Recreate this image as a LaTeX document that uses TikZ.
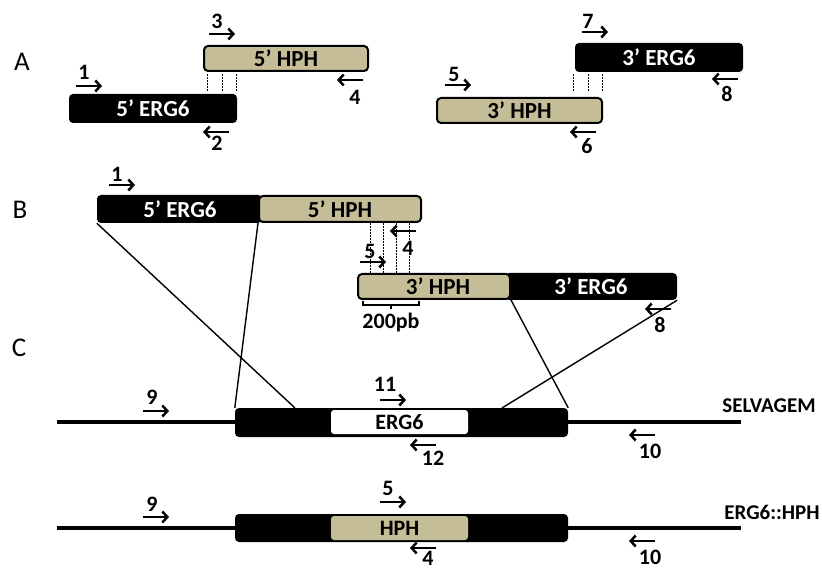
\documentclass[tikz,border=0pt]{standalone}
\usepackage{fontspec}
\setmainfont{Carlito}
\usetikzlibrary{arrows.meta}
\definecolor{tan}{RGB}{196,189,151}

\tikzset{
	blkbox/.style={fill=black, text=white, rounded corners=4pt, inner sep=0pt, font=\bfseries\fontsize{23}{26}\selectfont},
	tanbox/.style={fill=tan, draw=black, line width=2pt, rounded corners=4pt, inner sep=0pt, font=\bfseries\fontsize{23}{26}\selectfont},
	genebox/.style={rounded corners=3pt, inner sep=0pt, minimum width=137pt, minimum height=24pt, font=\bfseries\fontsize{22}{26}\selectfont},
	panel/.style={font=\fontsize{27}{30}\selectfont, inner sep=0pt},
	num/.style={font=\bfseries\fontsize{22}{24}\selectfont, inner sep=0pt},
	tag/.style={font=\bfseries\fontsize{21}{24}\selectfont, inner sep=0pt},
	primer/.style={line width=2.5pt, -{Straight Barb[length=5pt,width=11pt,line width=2.5pt]}},
	overlap/.style={line width=0.5pt, dash pattern=on 2pt off 1pt},
	link/.style={line width=1.4pt},
	dna/.style={line width=4pt}
}

\begin{document}
\begin{tikzpicture}[x=1pt, y=-1pt]
	\useasboundingbox (0,0) rectangle (822,569);

	% panel A
	\node[panel] (pa) at (22,62) {A};
	\node[tanbox, minimum width=164pt, minimum height=25pt] (a5hph) at (286,58.5) {5’ HPH};
	\node[blkbox, minimum width=168pt, minimum height=29pt] (a5erg) at (153,108.5) {5’ ERG6};
	\node[blkbox, minimum width=168pt, minimum height=29pt] (a3erg) at (659,57.5) {3’ ERG6};
	\node[tanbox, minimum width=165pt, minimum height=25pt] (a3hph) at (519.5,110.5) {3’ HPH};
	\foreach \x in {207,222,236} \draw[overlap] (\x,74) -- (\x,92);
	\foreach \x in {573,588,602} \draw[overlap] (\x,74) -- (\x,92);

	% panel B
	\node[panel] (pb) at (20,210) {B};
	\node[blkbox, minimum width=165pt, minimum height=28pt] (b5erg) at (179.5,209) {\hspace*{1pt}5’ ERG6};
	\node[tanbox, minimum width=162pt, minimum height=26pt] (b5hph) at (340,209) {5’ HPH};
	\node[blkbox, minimum width=172pt, minimum height=27pt] (b3erg) at (591,286.5) {3’ ERG6};
	\node[tanbox, minimum width=152pt, minimum height=25pt] (b3hph) at (434,286.5) {\hspace*{8pt}3’ HPH};
	\foreach \x in {370,383,396,409} \draw[overlap] (\x,223) -- (\x,273);
	\draw[line width=1.5pt] (363,301) -- (363,305) -- (419,305) -- (419,301);
	\draw[line width=1.5pt] (391,305) -- (391,309);
	\node[num] (bp) at (391,323) {200pb};

	% panel C
	\node[panel] (pc) at (19,348) {C};
	\coordinate (wtL) at (57,422);
	\coordinate (wtR) at (741,422);
	\coordinate (mutL) at (57,528);
	\coordinate (mutR) at (741,528);
	\draw[dna] (wtL) -- (wtR);
	\draw[dna] (mutL) -- (mutR);
	\node[blkbox, minimum width=333pt, minimum height=29pt] (wt) at (401.5,422.5) {};
	\node[genebox, fill=white] (wtgene) at (399.5,422) {ERG6};
	\node[blkbox, minimum width=333pt, minimum height=28pt] (mut) at (401.5,528) {};
	\node[genebox, fill=tan] (mutgene) at (399.5,528) {HPH};
	\node[tag] (wtname) at (769,406) {SELVAGEM};
	\node[tag] (mutname) at (772,512) {ERG6::HPH};

	% crossing lines
	\coordinate (wtA) at (295,408);
	\coordinate (wtB) at (502,408);
	\draw[link] (b5erg.south west) -- (wtA);
	\draw[link] (b5hph.south west) -- (wt.north west);
	\draw[link] (b3hph.south east) -- (wt.north east);
	\draw[link] (b3erg.south east) -- (wtB);

	% forward primers
	\foreach \nm/\x/\y/\lx/\ly/\lab in {f3/209/34/217/21/3, fa1/76/86/84/72/1, f7/582/32/588/21/7, fa5/445/85/454/74/5, fb1/109/185/117/174/1, fb5/360/262/370/251/5, fc9/143/411/152/397/9, f11/380/400/385/384/11, fd9/143/517/152/504/9, fd5/380/502/388/488/5}
		{\draw[primer] (\x,\y) -- ++(26,0); \node[num] (\nm) at (\lx,\ly) {\lab};}

	% reverse primers
	\foreach \nm/\x/\y/\lx/\ly/\lab in {ra4/363/80/355/97/4, r2/229/132/217/143/2, ra8/738/79/727/94/8, r6/596/132/587/146/6, rb4/416/231/408/248/4, rb8/671/309/660/325/8, r12/436/445/433/458/12, rc10/655/435/650/451/10, rd4/436/548/428/558/4, rd10/655/541/650/557/10}
		{\draw[primer] (\x,\y) -- ++(-26,0); \node[num] (\nm) at (\lx,\ly) {\lab};}
\end{tikzpicture}
\end{document}
